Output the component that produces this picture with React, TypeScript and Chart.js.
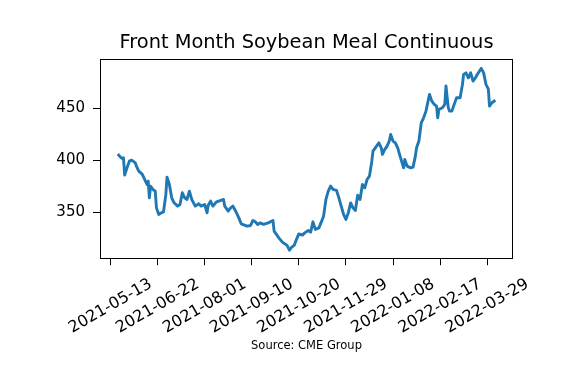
import React, { useEffect, useRef } from 'react';
import { Chart, registerables } from 'chart.js';

Chart.register(...registerables);

const TITLE = 'Front Month Soybean Meal Continuous';
const SOURCE = 'Source: CME Group';

const DATES = [
  '2021-05-20', '2021-05-22', '2021-05-23', '2021-05-24', '2021-05-25', '2021-05-27', '2021-05-29', '2021-05-31',
  '2021-06-03', '2021-06-04', '2021-06-06', '2021-06-09', '2021-06-11', '2021-06-13', '2021-06-14', '2021-06-15',
  '2021-06-16', '2021-06-18', '2021-06-20', '2021-06-21', '2021-06-23', '2021-06-25', '2021-06-27', '2021-06-29',
  '2021-06-30', '2021-07-02', '2021-07-04', '2021-07-06', '2021-07-09', '2021-07-11', '2021-07-13', '2021-07-15',
  '2021-07-17', '2021-07-19', '2021-07-21', '2021-07-24', '2021-07-27', '2021-07-29', '2021-08-01', '2021-08-03',
  '2021-08-04', '2021-08-06', '2021-08-08', '2021-08-11', '2021-08-13', '2021-08-17', '2021-08-18', '2021-08-21',
  '2021-08-23', '2021-08-25', '2021-08-27', '2021-08-30', '2021-09-01', '2021-09-06', '2021-09-09', '2021-09-11',
  '2021-09-13', '2021-09-15', '2021-09-17', '2021-09-20', '2021-09-24', '2021-09-28', '2021-09-29', '2021-10-03',
  '2021-10-06', '2021-10-10', '2021-10-12', '2021-10-14', '2021-10-16', '2021-10-18', '2021-10-20', '2021-10-23',
  '2021-10-25', '2021-10-28', '2021-10-30', '2021-11-01', '2021-11-03', '2021-11-06', '2021-11-09', '2021-11-10',
  '2021-11-12', '2021-11-14', '2021-11-16', '2021-11-18', '2021-11-21', '2021-11-23', '2021-11-25', '2021-11-27',
  '2021-11-29', '2021-12-01', '2021-12-03', '2021-12-05', '2021-12-07', '2021-12-09', '2021-12-11', '2021-12-13',
  '2021-12-15', '2021-12-17', '2021-12-19', '2021-12-21', '2021-12-22', '2021-12-25', '2021-12-27', '2021-12-29',
  '2021-12-30', '2022-01-01', '2022-01-03', '2022-01-05', '2022-01-06', '2022-01-08', '2022-01-10', '2022-01-12',
  '2022-01-14', '2022-01-17', '2022-01-18', '2022-01-20', '2022-01-23', '2022-01-25', '2022-01-27', '2022-01-28',
  '2022-01-30', '2022-02-01', '2022-02-03', '2022-02-05', '2022-02-08', '2022-02-10', '2022-02-12', '2022-02-14',
  '2022-02-15', '2022-02-16', '2022-02-19', '2022-02-21', '2022-02-22', '2022-02-24', '2022-02-25', '2022-02-27',
  '2022-03-01', '2022-03-03', '2022-03-06', '2022-03-08', '2022-03-09', '2022-03-11', '2022-03-13', '2022-03-15',
  '2022-03-17', '2022-03-19', '2022-03-21', '2022-03-24', '2022-03-26', '2022-03-28', '2022-03-30', '2022-03-31',
  '2022-04-02', '2022-04-04',
];

const VALUES = [
  404.8, 402.2, 401.6, 402.2, 385.6, 392.6, 399.0, 400.0,
  397.4, 394.2, 389.4, 386.3, 381.4, 376.6, 379.8, 363.8,
  375.0, 371.8, 370.2, 354.1, 347.8, 349.3, 350.3, 367.0,
  383.7, 376.6, 363.8, 359.0, 355.8, 357.4, 368.6, 363.8,
  362.2, 370.2, 362.2, 355.8, 358.0, 355.8, 357.4, 349.3,
  356.7, 360.6, 355.8, 359.9, 360.6, 362.2, 355.8, 351.0,
  354.1, 355.8, 351.6, 344.5, 338.8, 336.5, 337.2, 342.0,
  340.7, 338.2, 339.7, 338.2, 339.7, 342.0, 331.7, 325.3,
  321.2, 318.0, 313.5, 316.3, 318.0, 323.8, 329.1, 327.9,
  330.1, 332.4, 330.8, 340.7, 333.4, 334.9, 343.0, 346.2,
  362.2, 370.2, 375.0, 371.8, 370.9, 363.8, 355.8, 347.8,
  343.0, 349.3, 358.9, 354.1, 351.6, 366.3, 362.2, 376.6,
  373.4, 381.4, 384.6, 399.0, 408.7, 413.5, 416.6, 411.8,
  405.5, 410.3, 413.5, 418.9, 424.7, 418.3, 416.6, 411.8,
  403.8, 392.6, 400.7, 394.2, 392.6, 393.3, 403.8, 411.8,
  418.3, 435.9, 440.7, 447.1, 463.2, 456.7, 453.6, 451.9,
  440.7, 448.8, 450.3, 453.6, 471.2, 450.3, 447.1, 447.1,
  453.6, 459.9, 459.9, 472.8, 482.4, 483.9, 479.1, 483.9,
  476.0, 479.1, 483.0, 488.2, 483.9, 472.8, 468.3, 451.9,
  455.1, 456.7,
];

const X_TICK_DATES = [
  '2021-05-13', '2021-06-22', '2021-08-01', '2021-09-10', '2021-10-20',
  '2021-11-29', '2022-01-08', '2022-02-17', '2022-03-29',
];

const Y_TICKS = [350, 400, 450];

const DAY_MS = 86400000;
const toDay = (s: string) => Date.parse(s + 'T00:00:00Z') / DAY_MS;
const fmtDay = (d: number) => new Date(Math.round(d) * DAY_MS).toISOString().slice(0, 10);

const FONT = '"DejaVu Sans", "Liberation Sans", sans-serif';

function paddedRange(vals: number[], frac = 0.05) {
  const lo = Math.min(...vals);
  const hi = Math.max(...vals);
  const m = (hi - lo) * frac;
  return { min: lo - m, max: hi + m };
}

const framePlugin = {
  id: 'mplFrame',
  afterDraw(chart: any) {
    const { ctx, chartArea: a, scales } = chart;
    ctx.save();
    ctx.strokeStyle = '#000';
    ctx.lineWidth = 1;
    const l = Math.round(a.left) + 0.5;
    const t = Math.round(a.top) + 0.5;
    const r = Math.round(a.right) - 0.5;
    const b = Math.round(a.bottom) - 0.5;
    ctx.strokeRect(l, t, r - l, b - t);

    const xs = scales.x;
    const ang = (30 * Math.PI) / 180;
    ctx.font = `16px ${FONT}`;
    ctx.fillStyle = '#000';
    ctx.textAlign = 'center';
    ctx.textBaseline = 'middle';
    for (const tk of xs.ticks) {
      const label = fmtDay(tk.value);
      const px = xs.getPixelForValue(tk.value);
      ctx.save();
      ctx.translate(px, a.bottom + 47);
      ctx.rotate(-ang);
      ctx.fillText(label, 0, 0);
      ctx.restore();
    }
    ctx.restore();
  },
};

export default function App() {
  const ref = useRef<HTMLCanvasElement | null>(null);

  useEffect(() => {
    if (!ref.current) return;
    const xDays = DATES.map(toDay);
    const xr = paddedRange(xDays);
    const yr = paddedRange(VALUES);

    const chart = new Chart(ref.current, {
      type: 'line',
      data: {
        datasets: [
          {
            data: xDays.map((x, i) => ({ x, y: VALUES[i] })),
            borderColor: '#1f77b4',
            borderWidth: 2.9,
            pointRadius: 0,
            tension: 0,
            borderJoinStyle: 'round',
            borderCapStyle: 'square',
            fill: false,
          },
        ],
      },
      options: {
        responsive: false,
        animation: false,
        events: [],
        layout: { padding: { left: 0, right: 56, top: 0, bottom: 0 } },
        plugins: {
          legend: { display: false },
          tooltip: { enabled: false },
          title: {
            display: true,
            text: TITLE,
            fullSize: false,
            color: '#000',
            font: { family: FONT, size: 19.4, weight: 'normal', lineHeight: 1.2 },
            padding: { top: 31, bottom: 5 },
          },
          subtitle: {
            display: true,
            position: 'bottom',
            text: SOURCE,
            fullSize: false,
            color: '#000',
            font: { family: FONT, size: 11.5, weight: 'normal', lineHeight: 1.2 },
            padding: { top: 0, bottom: 14 },
          },
        },
        scales: {
          x: {
            type: 'linear',
            min: xr.min,
            max: xr.max,
            afterBuildTicks: (s: any) => {
              s.ticks = X_TICK_DATES.map((d) => ({ value: toDay(d) }));
            },
            afterFit: (s: any) => {
              s.height = 80;
            },
            ticks: { display: false },
            grid: { display: true, drawOnChartArea: false, drawTicks: true, tickLength: 6, color: '#000' },
            border: { display: false },
          },
          y: {
            type: 'linear',
            min: yr.min,
            max: yr.max,
            afterBuildTicks: (s: any) => {
              s.ticks = Y_TICKS.map((v) => ({ value: v }));
            },
            afterFit: (s: any) => {
              s.width = 100;
            },
            ticks: {
              color: '#000',
              font: { family: FONT, size: 15 },
              padding: 8,
              callback: (v: any) => String(v),
            },
            grid: { display: true, drawOnChartArea: false, drawTicks: true, tickLength: 7, color: '#000' },
            border: { display: false },
          },
        },
      },
      plugins: [framePlugin],
    } as any);

    return () => chart.destroy();
  }, []);

  return (
    <div style={{ position: 'absolute', left: 0, top: 0, width: 569, height: 367, background: '#fff' }}>
      <canvas ref={ref} width={569} height={367} style={{ display: 'block' }} />
    </div>
  );
}
